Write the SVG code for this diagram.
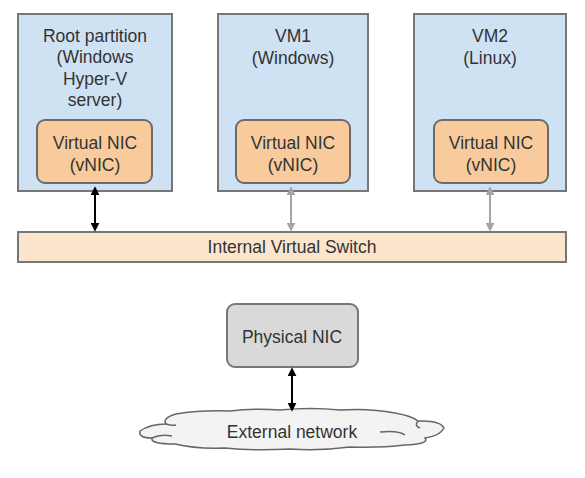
<svg xmlns="http://www.w3.org/2000/svg" width="585" height="478" viewBox="0 0 585 478">
<style>
text{font-family:"Liberation Sans",Arial,sans-serif;font-size:17.5px;fill:#333;text-anchor:middle}
.host{fill:#cfe2f3;stroke:#777;stroke-width:2}
.vnic{fill:#f9cb9c;stroke:#6b6b6b;stroke-width:2}
.sw{fill:#fce5cd;stroke:#777;stroke-width:2}
.pnic{fill:#d9d9d9;stroke:#777;stroke-width:2}
.cloud{fill:#f3f3f3;stroke:#666;stroke-width:1.5}
.blk{stroke:#000;stroke-width:2;fill:none}
.gry{stroke:#a5a5a5;stroke-width:2;fill:none}
</style>
<defs>
<marker id="ab" viewBox="0 0 10 10" refX="8" refY="5" markerWidth="4.5" markerHeight="4.5" orient="auto-start-reverse"><path d="M0,0L10,5L0,10z" fill="#000"/></marker>
<marker id="ag" viewBox="0 0 10 10" refX="8" refY="5" markerWidth="4.5" markerHeight="4.5" orient="auto-start-reverse"><path d="M0,0L10,5L0,10z" fill="#a5a5a5"/></marker>
</defs>
<g id="root">
<rect class="host" x="18" y="14" width="154" height="177"/>
<text x="95" y="42">Root partition</text>
<text x="95" y="63">(Windows</text>
<text x="95" y="85">Hyper-V</text>
<text x="95" y="106">server)</text>
</g>
<g id="root-vnic">
<rect class="vnic" x="37" y="120" width="115" height="63" rx="8"/>
<text x="95" y="149">Virtual NIC</text>
<text x="95" y="171">(vNIC)</text>
</g>
<g id="vm1">
<rect class="host" x="218" y="14" width="150" height="177"/>
<text x="293" y="42">VM1</text>
<text x="293" y="64">(Windows)</text>
</g>
<g id="vm1-vnic">
<rect class="vnic" x="236" y="120" width="114" height="63" rx="8"/>
<text x="293" y="149">Virtual NIC</text>
<text x="293" y="171">(vNIC)</text>
</g>
<g id="vm2">
<rect class="host" x="414" y="14" width="152" height="177"/>
<text x="490" y="42">VM2</text>
<text x="490" y="64">(Linux)</text>
</g>
<g id="vm2-vnic">
<rect class="vnic" x="434" y="120" width="114" height="63" rx="8"/>
<text x="491" y="149">Virtual NIC</text>
<text x="491" y="171">(vNIC)</text>
</g>
<g id="switch">
<rect class="sw" x="18" y="232" width="548" height="30"/>
<text x="292" y="253">Internal Virtual Switch</text>
</g>
<g id="physical-nic">
<rect class="pnic" x="227" y="304" width="131" height="63" rx="8"/>
<text x="292" y="343">Physical NIC</text>
</g>
<g id="external-network">
<path class="cloud" d="M140,431 Q150,424 166,424 Q162,418 176,414 Q200,410 230,411 Q255,408 280,410 Q310,407 340,410 Q370,408 395,413 Q412,416 418,421 Q440,420 444,428 Q440,436 425,438 Q430,444 405,445 Q380,448 350,447 Q320,451 290,449 Q255,451 225,448 Q195,449 175,444 Q150,444 152,438 Q138,438 140,431 Z"/>
<path class="cloud" d="M152,438 Q160,434 172,436 M380,432 Q398,430 405,435 M418,421 Q414,426 420,428 M166,424 Q172,426 176,425" style="fill:none"/>
<text x="292" y="438">External network</text>
</g>
<g id="connectors">
<line class="blk" x1="95" y1="188" x2="95" y2="230" marker-start="url(#ab)" marker-end="url(#ab)"/>
<line class="gry" x1="291" y1="188" x2="291" y2="230" marker-start="url(#ag)" marker-end="url(#ag)"/>
<line class="gry" x1="490" y1="188" x2="490" y2="230" marker-start="url(#ag)" marker-end="url(#ag)"/>
<line class="blk" x1="292" y1="369" x2="292" y2="410" marker-start="url(#ab)" marker-end="url(#ab)"/>
</g>
</svg>
